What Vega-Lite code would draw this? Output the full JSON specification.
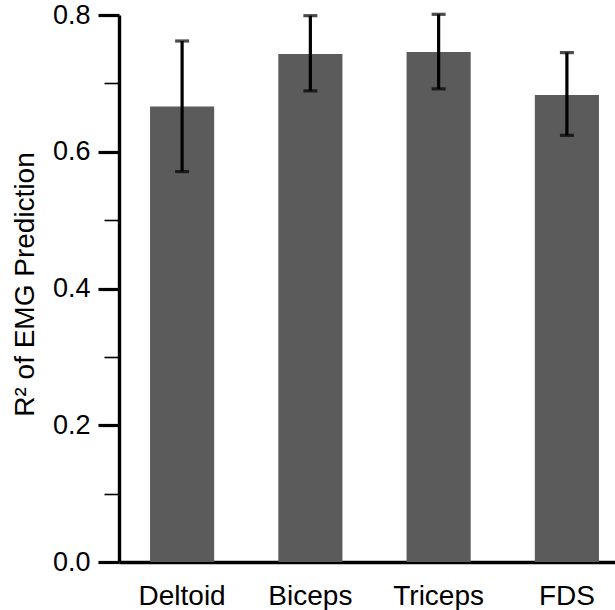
{
  "$schema": "https://vega.github.io/schema/vega-lite/v6.json",
  "width": 496,
  "height": 547,
  "autosize": {"type": "none"},
  "padding": {"left": 119, "top": 15, "right": 0, "bottom": 48},
  "background": "white",
  "config": {"view": {"stroke": null}, "font": "Liberation Sans"},
  "data": {
    "values": [
      {"muscle": "Deltoid", "r2": 0.666, "lo": 0.571, "hi": 0.762},
      {"muscle": "Biceps", "r2": 0.743, "lo": 0.689, "hi": 0.799},
      {"muscle": "Triceps", "r2": 0.746, "lo": 0.692, "hi": 0.801},
      {"muscle": "FDS", "r2": 0.683, "lo": 0.624, "hi": 0.745}
    ]
  },
  "encoding": {
    "x": {
      "field": "muscle",
      "type": "nominal",
      "sort": null,
      "scale": {"range": [0, 511], "paddingInner": 0.5, "paddingOuter": 0.242},
      "axis": {
        "title": null,
        "labelAngle": 0,
        "ticks": false,
        "domainColor": "black",
        "domainWidth": 3.4,
        "labelFontSize": 28,
        "labelColor": "black",
        "labelPadding": 20,
        "labelFont": "Liberation Sans"
      }
    }
  },
  "layer": [
    {
      "mark": {"type": "bar", "color": "#5b5b5b"},
      "encoding": {
        "y": {
          "field": "r2",
          "type": "quantitative",
          "title": "R² of EMG Prediction",
          "scale": {"domain": [0, 0.8], "nice": false, "zero": true},
          "axis": {
            "title": "R² of EMG Prediction",
            "values": [0, 0.1, 0.2, 0.3, 0.4, 0.5, 0.6, 0.7, 0.8],
            "labelExpr": "round(datum.value*10) % 2 === 0 ? format(datum.value, '.1f') : ''",
            "tickSize": {"condition": {"test": "round(datum.value*10) % 2 === 0", "value": 21}, "value": 15},
            "tickWidth": {"condition": {"test": "round(datum.value*10) % 2 === 0", "value": 3.2}, "value": 1.6},
            "tickColor": "black",
            "domainColor": "black",
            "domainWidth": 3.4,
            "grid": false,
            "labelFontSize": 27,
            "labelColor": "black",
            "labelPadding": 8,
            "labelFont": "Liberation Sans",
            "titleFont": "Liberation Sans",
            "titleFontSize": 28,
            "titleFontWeight": "normal",
            "titleColor": "black",
            "titlePadding": 13,
            "titleY": 269
          }
        }
      }
    },
    {
      "mark": {"type": "rule", "color": "black", "strokeWidth": 3.2},
      "encoding": {
        "y": {"field": "lo", "type": "quantitative", "title": "R² of EMG Prediction"},
        "y2": {"field": "hi"}
      }
    },
    {
      "mark": {"type": "tick", "color": "black", "thickness": 3.2, "size": 14},
      "encoding": {
        "y": {"field": "lo", "type": "quantitative", "title": "R² of EMG Prediction"}
      }
    },
    {
      "mark": {"type": "tick", "color": "black", "thickness": 3.2, "size": 14},
      "encoding": {
        "y": {"field": "hi", "type": "quantitative", "title": "R² of EMG Prediction"}
      }
    }
  ]
}
